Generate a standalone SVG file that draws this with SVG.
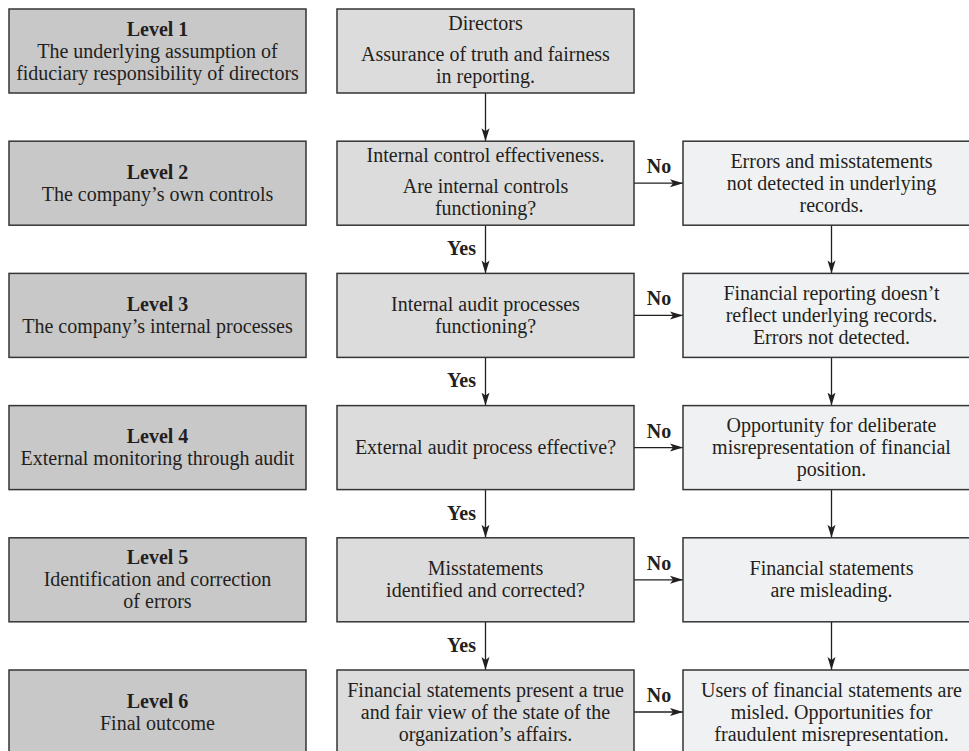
<svg xmlns="http://www.w3.org/2000/svg" width="969" height="751" viewBox="0 0 969 751">
<style>
.box{stroke:#353535;stroke-width:1.5}
.lv{fill:#c8c8c9}
.md{fill:#dcdcdd}
.rt{fill:#f0f1f2}
text{font-family:"Liberation Serif","Times New Roman",serif;font-size:20px;fill:#231f20;text-anchor:middle}
.b{font-weight:bold}
.e{text-anchor:end}
.ln{stroke:#231f20;stroke-width:1.3;fill:none}
</style>
<defs>
<marker id="ah" markerUnits="userSpaceOnUse" markerWidth="14" markerHeight="9" refX="13" refY="4.5" orient="auto">
<path d="M0,0.5 L13,4.5 L0,8.5 L3,4.5 Z" fill="#231f20"/>
</marker>
</defs>
<rect width="969" height="751" fill="#ffffff"/>

<g id="connectors">
<path class="ln" d="M485.5,93 V141.2" marker-end="url(#ah)"/>
<path class="ln" d="M485.5,225.2 V273.4" marker-end="url(#ah)"/>
<path class="ln" d="M485.5,357.4 V405.6" marker-end="url(#ah)"/>
<path class="ln" d="M485.5,489.6 V537.8" marker-end="url(#ah)"/>
<path class="ln" d="M485.5,621.8 V670" marker-end="url(#ah)"/>
<path class="ln" d="M831.5,225.2 V273.4" marker-end="url(#ah)"/>
<path class="ln" d="M831.5,357.4 V405.6" marker-end="url(#ah)"/>
<path class="ln" d="M831.5,489.6 V537.8" marker-end="url(#ah)"/>
<path class="ln" d="M831.5,621.8 V670" marker-end="url(#ah)"/>
<path class="ln" d="M634,183.2 H683" marker-end="url(#ah)"/>
<path class="ln" d="M634,315.4 H683" marker-end="url(#ah)"/>
<path class="ln" d="M634,447.6 H683" marker-end="url(#ah)"/>
<path class="ln" d="M634,579.8 H683" marker-end="url(#ah)"/>
<path class="ln" d="M634,712 H683" marker-end="url(#ah)"/>
<text class="b" x="659" y="173.2">No</text>
<text class="b" x="659" y="305.4">No</text>
<text class="b" x="659" y="437.6">No</text>
<text class="b" x="659" y="569.8">No</text>
<text class="b" x="659" y="702">No</text>
<text class="b e" x="476" y="255.2">Yes</text>
<text class="b e" x="476" y="387.4">Yes</text>
<text class="b e" x="476" y="519.6">Yes</text>
<text class="b e" x="476" y="651.8">Yes</text>
</g>

<g id="level1">
<rect class="box lv" x="9" y="9" width="297" height="84"/>
<text x="157.5" y="35.5" class="b">Level 1</text>
<text x="157.5" y="57.5">The underlying assumption of</text>
<text x="157.5" y="79.5">fiduciary responsibility of directors</text>
</g>
<g id="directors">
<rect class="box md" x="337" y="9" width="297" height="84"/>
<text x="485.5" y="30">Directors</text>
<text x="485.5" y="61">Assurance of truth and fairness</text>
<text x="485.5" y="83">in reporting.</text>
</g>

<g id="level2">
<rect class="box lv" x="9" y="141.2" width="297" height="84"/>
<text x="157.5" y="178.7" class="b">Level 2</text>
<text x="157.5" y="200.7">The company’s own controls</text>
</g>
<g id="internal-control">
<rect class="box md" x="337" y="141.2" width="297" height="84"/>
<text x="485.5" y="162.2">Internal control effectiveness.</text>
<text x="485.5" y="193.2">Are internal controls</text>
<text x="485.5" y="215.2">functioning?</text>
</g>
<g id="errors-not-detected">
<rect class="box rt" x="683" y="141.2" width="297" height="84"/>
<text x="831.5" y="167.7">Errors and misstatements</text>
<text x="831.5" y="189.7">not detected in underlying</text>
<text x="831.5" y="211.7">records.</text>
</g>

<g id="level3">
<rect class="box lv" x="9" y="273.4" width="297" height="84"/>
<text x="157.5" y="310.9" class="b">Level 3</text>
<text x="157.5" y="332.9">The company’s internal processes</text>
</g>
<g id="internal-audit">
<rect class="box md" x="337" y="273.4" width="297" height="84"/>
<text x="485.5" y="310.9">Internal audit processes</text>
<text x="485.5" y="332.9">functioning?</text>
</g>
<g id="reporting-not-reflect">
<rect class="box rt" x="683" y="273.4" width="297" height="84"/>
<text x="831.5" y="299.9">Financial reporting doesn’t</text>
<text x="831.5" y="321.9">reflect underlying records.</text>
<text x="831.5" y="343.9">Errors not detected.</text>
</g>

<g id="level4">
<rect class="box lv" x="9" y="405.6" width="297" height="84"/>
<text x="157.5" y="443.1" class="b">Level 4</text>
<text x="157.5" y="465.1">External monitoring through audit</text>
</g>
<g id="external-audit">
<rect class="box md" x="337" y="405.6" width="297" height="84"/>
<text x="485.5" y="454.1">External audit process effective?</text>
</g>
<g id="opportunity">
<rect class="box rt" x="683" y="405.6" width="297" height="84"/>
<text x="831.5" y="432.1">Opportunity for deliberate</text>
<text x="831.5" y="454.1">misrepresentation of financial</text>
<text x="831.5" y="476.1">position.</text>
</g>

<g id="level5">
<rect class="box lv" x="9" y="537.8" width="297" height="84"/>
<text x="157.5" y="564.3" class="b">Level 5</text>
<text x="157.5" y="586.3">Identification and correction</text>
<text x="157.5" y="608.3">of errors</text>
</g>
<g id="misstatements">
<rect class="box md" x="337" y="537.8" width="297" height="84"/>
<text x="485.5" y="575.3">Misstatements</text>
<text x="485.5" y="597.3">identified and corrected?</text>
</g>
<g id="misleading">
<rect class="box rt" x="683" y="537.8" width="297" height="84"/>
<text x="831.5" y="575.3">Financial statements</text>
<text x="831.5" y="597.3">are misleading.</text>
</g>

<g id="level6">
<rect class="box lv" x="9" y="670" width="297" height="84"/>
<text x="157.5" y="707.5" class="b">Level 6</text>
<text x="157.5" y="729.5">Final outcome</text>
</g>
<g id="true-fair">
<rect class="box md" x="337" y="670" width="297" height="84"/>
<text x="485.5" y="696.5">Financial statements present a true</text>
<text x="485.5" y="718.5">and fair view of the state of the</text>
<text x="485.5" y="740.5">organization’s affairs.</text>
</g>
<g id="misled">
<rect class="box rt" x="683" y="670" width="297" height="84"/>
<text x="831.5" y="696.5">Users of financial statements are</text>
<text x="831.5" y="718.5">misled. Opportunities for</text>
<text x="831.5" y="740.5">fraudulent misrepresentation.</text>
</g>
</svg>
